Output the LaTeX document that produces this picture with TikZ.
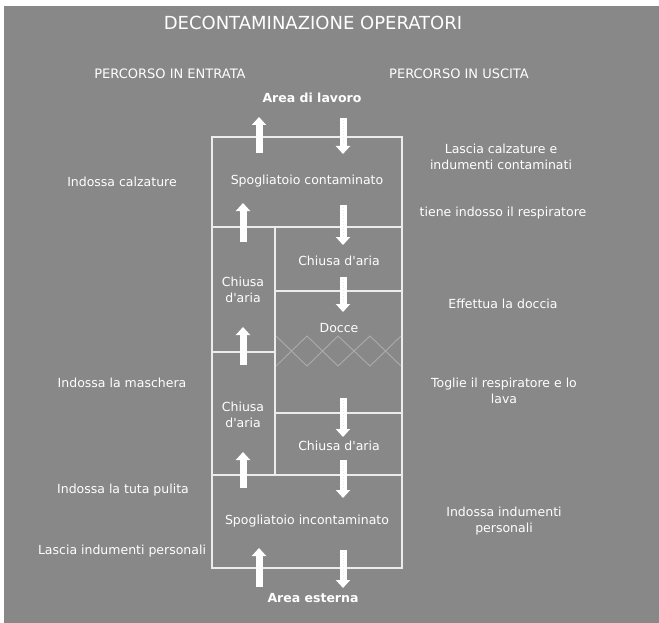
\documentclass[tikz,border=0pt]{standalone}
\usepackage{fontspec}
\setmainfont{DejaVu Sans}
\usetikzlibrary{arrows.meta,positioning}

\definecolor{bggray}{RGB}{136,136,136}
\definecolor{wall}{RGB}{236,236,236}
\definecolor{zig}{RGB}{172,172,172}

\tikzset{
	lbl/.style={text=white, inner sep=0pt, align=center, font=\fontsize{12.5}{16}\selectfont},
	hdr/.style={lbl, font=\fontsize{13}{16}\selectfont},
	area/.style={lbl, font=\bfseries\fontsize{12.5}{16}\selectfont},
	room/.style={draw=wall, line width=1.3pt},
	goin/.style={draw=white, line width=7pt, -{Triangle[width=14pt,length=8pt]}},
	goout/.style={goin},
	dots/.style={draw=gray!18, line width=0.8pt, dotted, shorten >=9pt, shorten <=2pt},
	shower/.style={draw=zig, line width=0.9pt},
}
\newcommand{\ap}{\textquotesingle}

\begin{document}
\begin{tikzpicture}[x=1pt, y=-1pt]
	\useasboundingbox (0,0) rectangle (659,623);
	\fill[white] (0,0) rectangle (659,623);
	\fill[bggray] (4,6) rectangle (659,623);

	% titles
	\node[lbl, font=\fontsize{18}{20}\selectfont] (title) at (313,23) {DECONTAMINAZIONE OPERATORI};
	\node[hdr] (entrata) at (170,74) {PERCORSO IN ENTRATA};
	\node[hdr] (uscita) at (459,74) {PERCORSO IN USCITA};
	\node[area] (lavoro) at (312,98) {Area di lavoro};
	\node[area] (esterna) at (313,598) {Area esterna};

	% rooms
	\draw[room] (212,137) rectangle (402,568);
	\draw[room] (212,227) -- (402,227);
	\draw[room] (212,475) -- (402,475);
	\draw[room] (275,227) -- (275,475);
	\draw[room] (212,352) -- (275,352);
	\draw[room] (275,291) -- (402,291);
	\draw[room] (275,413) -- (402,413);
	\draw[shower] (276,336) -- (307,366) -- (338,336) -- (370,366) -- (401,336);
	\draw[shower] (276,366) -- (307,336) -- (338,366) -- (370,336) -- (401,366);

	\node[lbl] (sporco) at (307,181) {Spogliatoio contaminato};
	\node[lbl] (chiusa1) at (339,261) {Chiusa d\ap aria};
	\node[lbl] (chiusa2) at (243,290) {Chiusa\\d\ap aria};
	\node[lbl] (docce) at (339,328) {Docce};
	\node[lbl] (chiusa3) at (243,415) {Chiusa\\d\ap aria};
	\node[lbl] (chiusa4) at (339,446) {Chiusa d\ap aria};
	\node[lbl] (pulito) at (307,521) {Spogliatoio incontaminato};

	% notes, way in
	\node[lbl] (calz) at (122,182) {Indossa calzature};
	\node[lbl] (masch) at (122,383) {Indossa la maschera};
	\node[lbl] (tuta) at (123,490) {Indossa la tuta pulita};
	\node[lbl] (lascia) at (122,551) {Lascia indumenti personali};

	% notes, way out
	\node[lbl] (calzout) at (501,157) {Lascia calzature e\\indumenti contaminati};
	\node[lbl] (resp) at (503,213) {tiene indosso il respiratore};
	\node[lbl] (doccia) at (503,304) {Effettua la doccia};
	\node[lbl] (lava) at (504,391) {Toglie il respiratore e lo\\lava};
	\node[lbl] (pers) at (504,521) {Indossa indumenti\\personali};

	% way in
	\coordinate (u1) at (259,153);
	\coordinate[above=36pt of u1] (u1t);
	\coordinate (u2) at (243,242);
	\coordinate[above=39pt of u2] (u2t);
	\coordinate (u3) at (243,365);
	\coordinate[above=38pt of u3] (u3t);
	\coordinate (u4) at (243,488);
	\coordinate[above=36pt of u4] (u4t);
	\coordinate (u5) at (259,587);
	\coordinate[above=39pt of u5] (u5t);

	% way out
	\coordinate (d1) at (343,118);
	\coordinate[below=36pt of d1] (d1b);
	\coordinate (d2) at (343,205);
	\coordinate[below=40pt of d2] (d2b);
	\coordinate (d3) at (343,277);
	\coordinate[below=35pt of d3] (d3b);
	\coordinate (d4) at (343,398);
	\coordinate[below=39pt of d4] (d4b);
	\coordinate (d5) at (343,460);
	\coordinate[below=38pt of d5] (d5b);
	\coordinate (d6) at (343,550);
	\coordinate[below=38pt of d6] (d6b);

	\draw[goin] (u1) -- (u1t);
	\draw[goin] (u2) -- (u2t);
	\draw[goin] (u3) -- (u3t);
	\draw[goin] (u4) -- (u4t);
	\draw[goin] (u5) -- (u5t);

	\draw[goout] (d1) -- (d1b);
	\draw[goout] (d2) -- (d2b);
	\draw[goout] (d3) -- (d3b);
	\draw[goout] (d4) -- (d4b);
	\draw[goout] (d5) -- (d5b);
	\draw[goout] (d6) -- (d6b);
	\draw[dots] (d1) -- (d1b);
	\draw[dots] (d2) -- (d2b);
	\draw[dots] (d3) -- (d3b);
	\draw[dots] (d4) -- (d4b);
	\draw[dots] (d5) -- (d5b);
	\draw[dots] (d6) -- (d6b);
\end{tikzpicture}
\end{document}
